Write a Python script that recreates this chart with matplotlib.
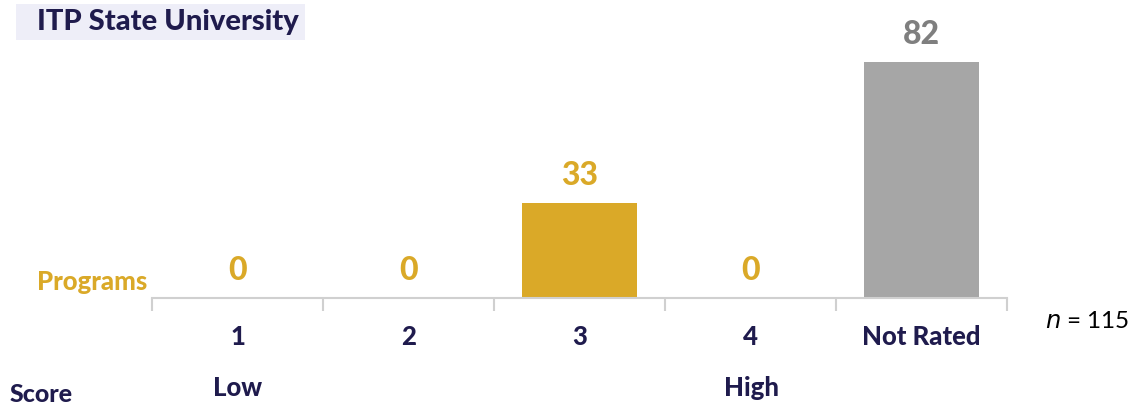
import numpy as np
import matplotlib.pyplot as plt
from matplotlib.patches import Rectangle

# data
categories = ['1', '2', '3', '4', 'Not Rated']
programs = [0, 0, 33, 0, 82]
n_total = 115

gold = '#DAA928'
grey = '#A6A6A6'
navy = '#1F1B4D'

plt.rcParams['font.family'] = 'Lato'

fig = plt.figure(figsize=(11.31, 4.07), dpi=100)
ax = fig.add_axes([152 / 1131, 1 - 298 / 407, 855 / 1131, 298 / 407])

x = np.arange(len(categories))
colors = [grey if c == 'Not Rated' else gold for c in categories]
ax.bar(x, programs, width=0.667, color=colors)

for xi, v, c in zip(x, programs, categories):
    lc = '#7F7F7F' if c == 'Not Rated' else gold
    ax.annotate(str(v), (xi, v), xytext=(0, 9), textcoords='offset points',
                ha='center', va='bottom', fontsize=23, fontweight='black', color=lc)

ax.set_xlim(-0.5, len(categories) - 0.5)
ax.set_ylim(0, 103.5)
ax.set_yticks([])
for s in ['top', 'right', 'left']:
    ax.spines[s].set_visible(False)
ax.spines['bottom'].set_color('#D0D0D0')
ax.spines['bottom'].set_linewidth(1.5)

# tick marks at category boundaries
ax.set_xticks(np.arange(-0.5, len(categories)))
ax.set_xticklabels([])
ax.tick_params(axis='x', length=9, width=1.5, color='#D0D0D0')
for xi, c in zip(x, categories):
    ax.text(xi, -13.5, c, ha='center', va='center', fontsize=18.5,
            fontweight='black', color=navy, clip_on=False)

fig.text(37 / 1131, 1 - 282 / 407, 'Programs', ha='left', va='center',
         fontsize=18.5, fontweight='black', color=gold)
fig.text(10 / 1131, 1 - 395 / 407, 'Score', ha='left', va='center',
         fontsize=18, fontweight='black', color=navy)
fig.text(238 / 1131, 1 - 388 / 407, 'Low', ha='center', va='center',
         fontsize=18.5, fontweight='black', color=navy)
fig.text(752 / 1131, 1 - 388 / 407, 'High', ha='center', va='center',
         fontsize=18.5, fontweight='black', color=navy)
fig.text(1045 / 1131, 1 - 322 / 407, r'$\it{n}$ = ' + str(n_total), ha='left',
         va='center', fontsize=17.5, color='black')

# title with shaded box
fig.patches.append(Rectangle((16 / 1131, 1 - 40 / 407), 289 / 1131, 36 / 407,
                             transform=fig.transFigure, facecolor='#EEEEF8',
                             edgecolor='none', zorder=0))
fig.text(37 / 1131, 1 - 22 / 407, 'ITP State University', ha='left', va='center',
         fontsize=21, fontweight='black', color=navy)

fig.savefig('out.png', dpi=100)
